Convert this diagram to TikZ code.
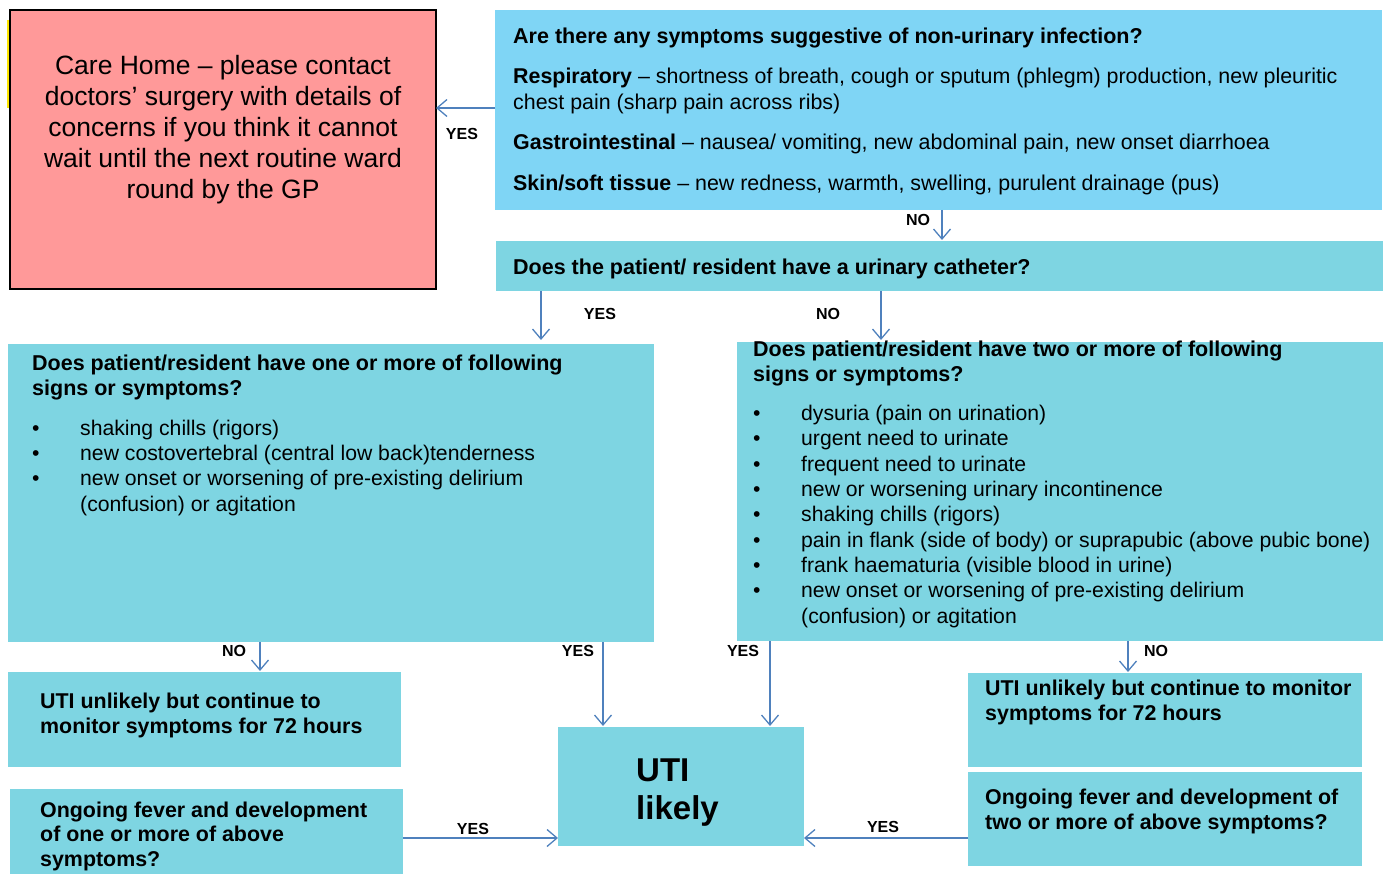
\documentclass[tikz,border=0pt]{standalone}
\usepackage{fontspec}
\setmainfont{Liberation Sans}
\usetikzlibrary{arrows.meta,calc}
\definecolor{redbox}{HTML}{FF9999}
\definecolor{skybox}{HTML}{7FD5F5}
\definecolor{tealbox}{HTML}{7ED5E2}
\definecolor{arrowc}{HTML}{4F81BD}
\tikzset{
  box/.style={fill=tealbox, draw=none, inner sep=0pt, outer sep=0pt, anchor=north west},
  txt/.style={inner sep=0pt, anchor=base west, align=left, font=\fontsize{21.4}{25.3}\selectfont},
  btxt/.style={txt, font=\bfseries\fontsize{21.5}{25.3}\selectfont},
  flow/.style={draw=arrowc, line width=1.3pt, -{Straight Barb[length=10pt,width=17pt,line width=1.3pt]}},
  lab/.style={inner sep=0pt, font=\bfseries\fontsize{16}{16}\selectfont},
}
\newcommand{\bul}{\makebox[48pt][l]{\textbullet}}
\newcommand{\ind}{\hspace*{48pt}}
\begin{document}
\begin{tikzpicture}[x=1pt,y=-1pt]
\useasboundingbox (0,0) rectangle (1387,874);
% boxes
\node[box, fill=redbox, draw=black, line width=1.2pt, minimum width=426, minimum height=279] (care) at (10,10) {};
\draw[yellow!90!orange, line width=1.5pt] (8,20) -- (8,108);
\node[box, fill=skybox, minimum width=887, minimum height=200] (q1) at (495,10) {};
\node[box, minimum width=887, minimum height=50] (cath) at (496,241) {};
\node[box, minimum width=646, minimum height=298] (left) at (8,344) {};
\node[box, minimum width=646, minimum height=299] (right) at (737,342) {};
\node[box, minimum width=393, minimum height=95] (unl) at (8,672) {};
\node[box, minimum width=393, minimum height=86] (ongl) at (10,789) {};
\node[box, minimum width=246, minimum height=119] (uti) at (558,727) {};
\node[box, minimum width=394, minimum height=94] (unr) at (968,673) {};
\node[box, minimum width=394, minimum height=94] (ongr) at (968,772) {};
% texts (anchor base = baseline of the last line)
\node[inner sep=0pt, align=center, anchor=base, font=\fontsize{26.5}{31}\selectfont] (caret) at (223,199)
  {Care Home -- please contact\\doctors’ surgery with details of\\concerns if you think it cannot\\wait until the next routine ward\\round by the GP};
\node[btxt] (q1a) at (513,44) {Are there any symptoms suggestive of non-urinary infection?};
\node[txt, font=\fontsize{21.4}{26}\selectfont] (q1b) at (513,110) {\textbf{Respiratory} -- shortness of breath, cough or sputum (phlegm) production, new pleuritic\\chest pain (sharp pain across ribs)};
\node[txt] (q1c) at (513,150) {\textbf{Gastrointestinal} -- nausea/ vomiting, new abdominal pain, new onset diarrhoea};
\node[txt] (q1d) at (513,191) {\textbf{Skin/soft tissue} -- new redness, warmth, swelling, purulent drainage (pus)};
\node[btxt] (catht) at (513,275) {Does the patient/ resident have a urinary catheter?};
\node[btxt, font=\bfseries\fontsize{21.5}{25.5}\selectfont] (lefth) at (32,396) {Does patient/resident have one or more of following\\signs or symptoms?};
\node[txt, font=\fontsize{21.2}{25.3}\selectfont] (leftl) at (32,511) {\bul shaking chills (rigors)\\\bul new costovertebral (central low back)tenderness\\\bul new onset or worsening of pre-existing delirium\\\ind (confusion) or agitation};
\node[btxt, font=\bfseries\fontsize{21.5}{25.5}\selectfont] (righth) at (753,382) {Does patient/resident have two or more of following\\signs or symptoms?};
\node[txt, font=\fontsize{21.2}{25.3}\selectfont] (rightl) at (753,623) {\bul dysuria (pain on urination)\\\bul urgent need to urinate\\\bul frequent need to urinate\\\bul new or worsening urinary incontinence\\\bul shaking chills (rigors)\\\bul pain in flank (side of body) or suprapubic (above pubic bone)\\\bul frank haematuria (visible blood in urine)\\\bul new onset or worsening of pre-existing delirium\\\ind (confusion) or agitation};
\node[btxt, font=\bfseries\fontsize{21.4}{25}\selectfont] (unlt) at (40,733) {UTI unlikely but continue to\\monitor symptoms for 72 hours};
\node[btxt, font=\bfseries\fontsize{21.4}{24.5}\selectfont] (onglt) at (40,866) {Ongoing fever and development\\of one or more of above\\symptoms?};
\node[btxt, font=\bfseries\fontsize{33}{38}\selectfont] (utit) at (636,819) {UTI\\likely};
\node[btxt, font=\bfseries\fontsize{21.4}{25}\selectfont] (unrt) at (985,720) {UTI unlikely but continue to monitor\\symptoms for 72 hours};
\node[btxt, font=\bfseries\fontsize{21.4}{25}\selectfont] (ongrt) at (985,829) {Ongoing fever and development of\\two or more of above symptoms?};
% connectors
\draw[flow] (q1.west |- 0,108) -- (care.east |- 0,108);
\draw[flow] (942,210) -- (942,240);
\draw[flow] (541,291) -- (541,340);
\draw[flow] (881,291) -- (881,340);
\draw[flow] (260,642) -- (260,671);
\draw[flow] (603,642) -- (603,726);
\draw[flow] (770,641) -- (770,726);
\draw[flow] (1128,641) -- (1128,672);
\draw[flow] (ongl.east |- 0,838) -- (uti.west |- 0,838);
\draw[flow] (ongr.west |- 0,838) -- (uti.east |- 0,838);
% labels
\node[lab] (l1) at (462,134) {YES};
\node[lab] (l2) at (918,220) {NO};
\node[lab] (l3) at (600,314) {YES};
\node[lab] (l4) at (828,314) {NO};
\node[lab] (l5) at (234,651) {NO};
\node[lab] (l6) at (578,651) {YES};
\node[lab] (l7) at (743,651) {YES};
\node[lab] (l8) at (1156,651) {NO};
\node[lab] (l9) at (473,829) {YES};
\node[lab] (l10) at (883,827) {YES};
\end{tikzpicture}
\end{document}
